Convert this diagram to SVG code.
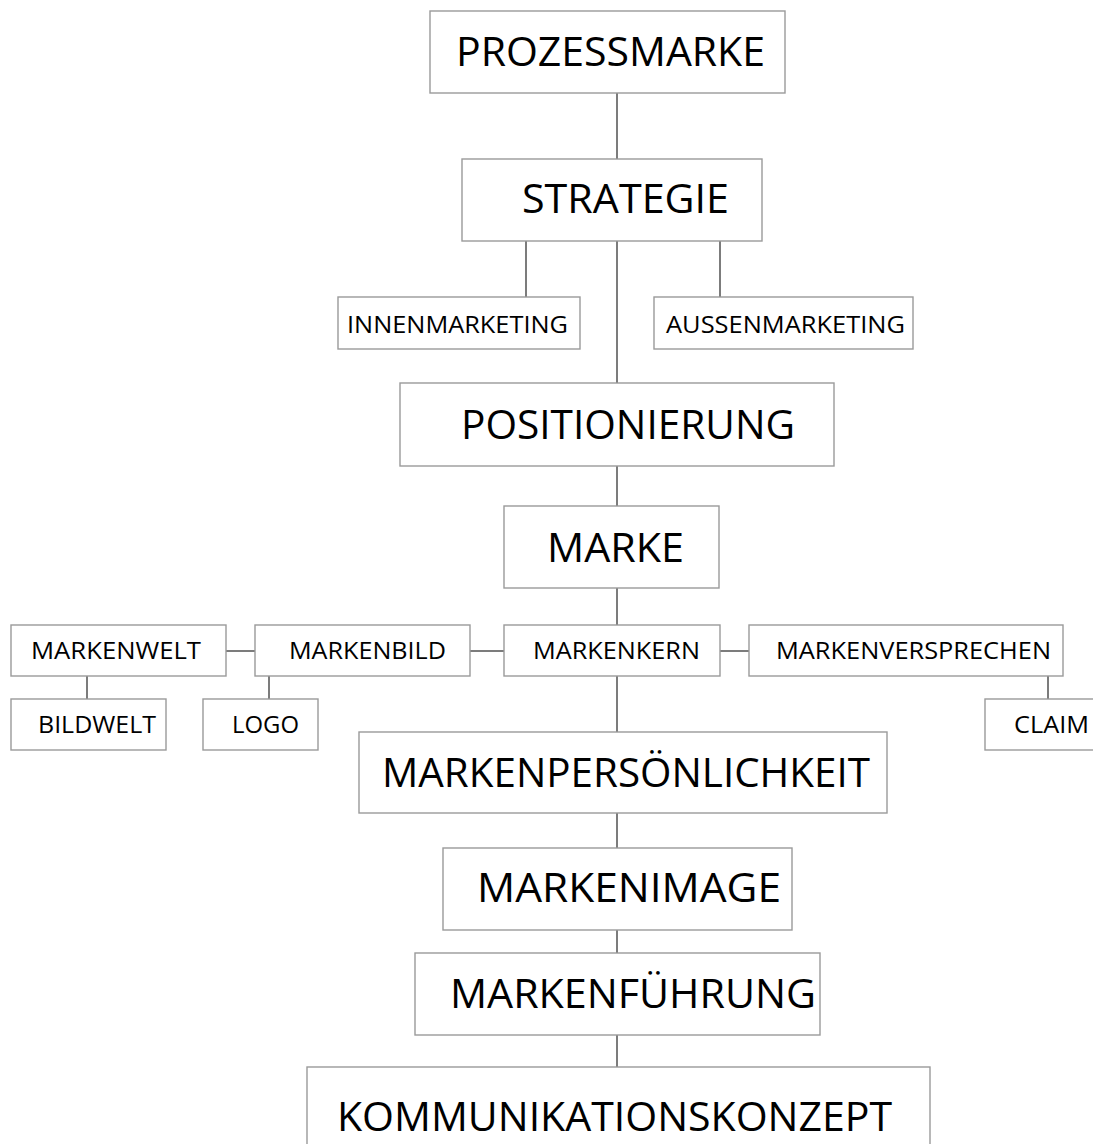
<svg xmlns="http://www.w3.org/2000/svg" width="1093" height="1144" viewBox="0 0 1093 1144">
<style>
  .box { fill: #ffffff; stroke: #9a9a9a; stroke-width: 1.4; }
  .big { font-family: "Open Sans", "Liberation Sans", sans-serif; font-size: 41px; fill: #000000; }
  .small { font-family: "Open Sans", "Liberation Sans", sans-serif; font-size: 24.5px; fill: #000000; }
  .conn line { stroke: #505050; stroke-width: 1.5; }
</style>
<rect x="0" y="0" width="1093" height="1144" fill="#ffffff"/>
<g id="connectors" class="conn">
  <line x1="617" y1="93" x2="617" y2="159"/>
  <line x1="526" y1="241" x2="526" y2="297"/>
  <line x1="617" y1="241" x2="617" y2="383"/>
  <line x1="720" y1="241" x2="720" y2="297"/>
  <line x1="617" y1="466" x2="617" y2="506"/>
  <line x1="617" y1="588" x2="617" y2="625"/>
  <line x1="617" y1="676" x2="617" y2="732"/>
  <line x1="226" y1="651" x2="255" y2="651"/>
  <line x1="470" y1="651" x2="504" y2="651"/>
  <line x1="720" y1="651" x2="749" y2="651"/>
  <line x1="87" y1="676" x2="87" y2="699"/>
  <line x1="269" y1="676" x2="269" y2="699"/>
  <line x1="1048" y1="676" x2="1048" y2="699"/>
  <line x1="617" y1="813" x2="617" y2="848"/>
  <line x1="617" y1="930" x2="617" y2="953"/>
  <line x1="617" y1="1035" x2="617" y2="1067"/>
</g>
<g id="prozessmarke">
  <rect class="box" x="430" y="11" width="355" height="82"/>
  <text class="big" x="456" y="66" textLength="309" lengthAdjust="spacingAndGlyphs">PROZESSMARKE</text>
</g>
<g id="strategie">
  <rect class="box" x="462" y="159" width="300" height="82"/>
  <text class="big" x="522" y="213" textLength="207" lengthAdjust="spacingAndGlyphs">STRATEGIE</text>
</g>
<g id="innenmarketing">
  <rect class="box" x="338" y="297" width="242" height="52"/>
  <text class="small" x="347" y="333" textLength="221" lengthAdjust="spacingAndGlyphs">INNENMARKETING</text>
</g>
<g id="aussenmarketing">
  <rect class="box" x="654" y="297" width="259" height="52"/>
  <text class="small" x="666" y="333" textLength="239" lengthAdjust="spacingAndGlyphs">AUSSENMARKETING</text>
</g>
<g id="positionierung">
  <rect class="box" x="400" y="383" width="434" height="83"/>
  <text class="big" x="461" y="439" textLength="334" lengthAdjust="spacingAndGlyphs">POSITIONIERUNG</text>
</g>
<g id="marke">
  <rect class="box" x="504" y="506" width="215" height="82"/>
  <text class="big" x="547" y="562" textLength="137" lengthAdjust="spacingAndGlyphs">MARKE</text>
</g>
<g id="markenwelt">
  <rect class="box" x="11" y="625" width="215" height="51"/>
  <text class="small" x="31" y="659" textLength="170" lengthAdjust="spacingAndGlyphs">MARKENWELT</text>
</g>
<g id="markenbild">
  <rect class="box" x="255" y="625" width="215" height="51"/>
  <text class="small" x="289" y="659" textLength="157" lengthAdjust="spacingAndGlyphs">MARKENBILD</text>
</g>
<g id="markenkern">
  <rect class="box" x="504" y="625" width="216" height="51"/>
  <text class="small" x="533" y="659" textLength="167" lengthAdjust="spacingAndGlyphs">MARKENKERN</text>
</g>
<g id="markenversprechen">
  <rect class="box" x="749" y="625" width="314" height="51"/>
  <text class="small" x="776" y="659" textLength="275" lengthAdjust="spacingAndGlyphs">MARKENVERSPRECHEN</text>
</g>
<g id="bildwelt">
  <rect class="box" x="11" y="699" width="155" height="51"/>
  <text class="small" x="38" y="733" textLength="118" lengthAdjust="spacingAndGlyphs">BILDWELT</text>
</g>
<g id="logo">
  <rect class="box" x="203" y="699" width="115" height="51"/>
  <text class="small" x="232" y="733" textLength="67" lengthAdjust="spacingAndGlyphs">LOGO</text>
</g>
<g id="claim">
  <rect class="box" x="985" y="699" width="120" height="51"/>
  <text class="small" x="1014" y="733" textLength="75" lengthAdjust="spacingAndGlyphs">CLAIM</text>
</g>
<g id="markenpersoenlichkeit">
  <rect class="box" x="359" y="732" width="528" height="81"/>
  <text class="big" x="382" y="787" textLength="488" lengthAdjust="spacingAndGlyphs">MARKENPERSÖNLICHKEIT</text>
</g>
<g id="markenimage">
  <rect class="box" x="443" y="848" width="349" height="82"/>
  <text class="big" x="477" y="902" textLength="304" lengthAdjust="spacingAndGlyphs">MARKENIMAGE</text>
</g>
<g id="markenfuehrung">
  <rect class="box" x="415" y="953" width="405" height="82"/>
  <text class="big" x="450" y="1008" textLength="366" lengthAdjust="spacingAndGlyphs">MARKENFÜHRUNG</text>
</g>
<g id="kommunikationskonzept">
  <rect class="box" x="307" y="1067" width="623" height="90"/>
  <text class="big" x="337" y="1131" textLength="555" lengthAdjust="spacingAndGlyphs">KOMMUNIKATIONSKONZEPT</text>
</g>
</svg>
